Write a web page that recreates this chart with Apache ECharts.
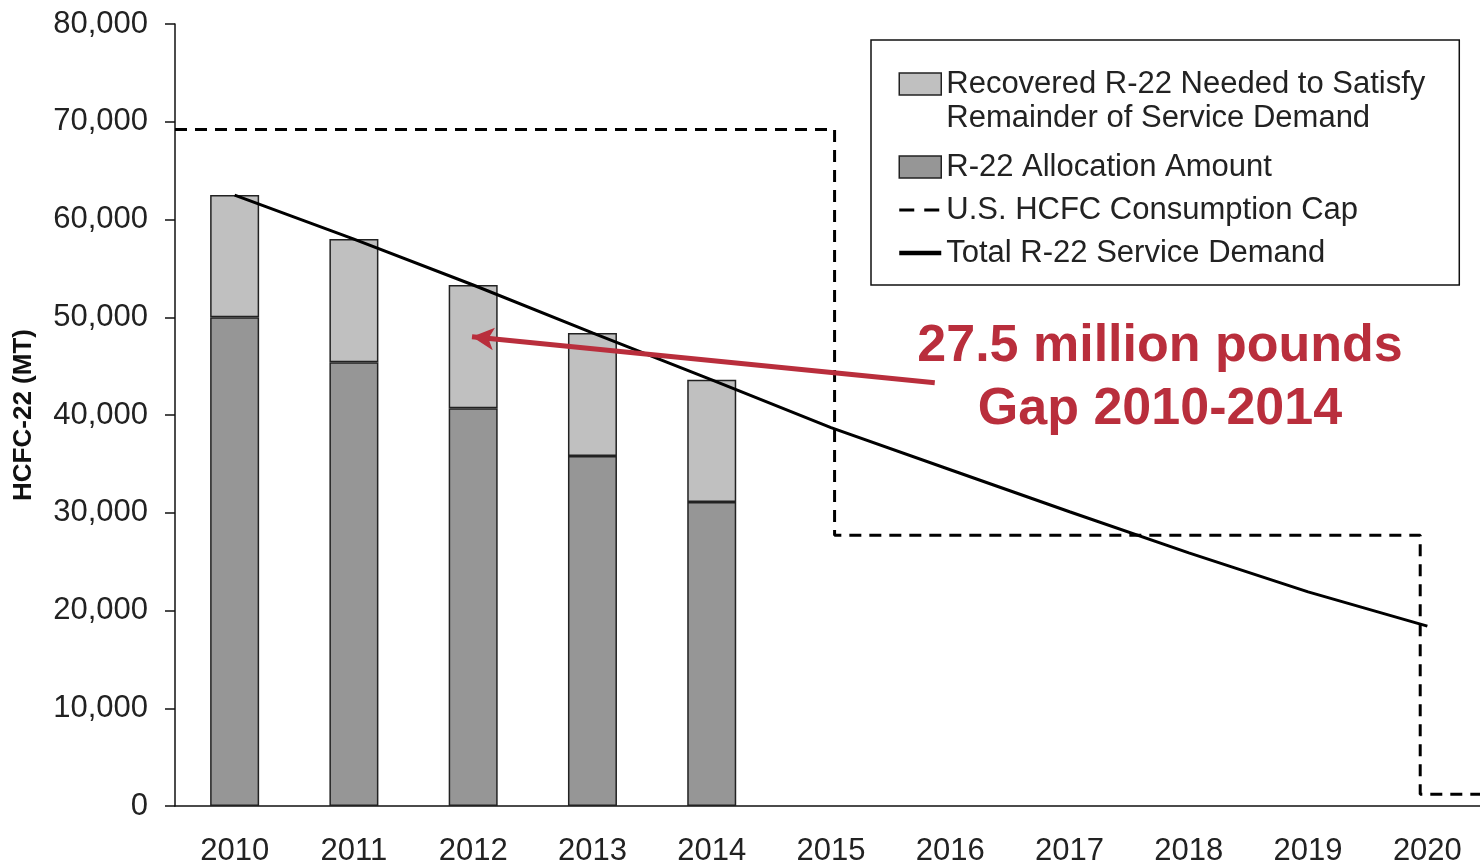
<!DOCTYPE html>
<html>
<head>
<meta charset="utf-8">
<title>HCFC-22 service demand</title>
<script src="https://cdn.jsdelivr.net/npm/echarts@6/dist/echarts.min.js"></script>
<style>
    html, body { margin: 0; padding: 0; background: #fff; }
    #chart { width: 1480px; height: 867px; }
</style>
</head>
<body>
<div id="chart"></div>
<script>
    // data (MT)
    var years = ['2010', '2011', '2012', '2013', '2014', '2015', '2016', '2017', '2018', '2019', '2020'];
    var allocation = [50000, 45400, 40700, 35800, 31100];
    var recovered = [12500, 12600, 12600, 12600, 12500];
    var serviceDemand = [62500, 58000, 53300, 48400, 43600, 38700, 34400, 30100, 25900, 21900, 18400];
    // consumption cap as a step line (x in years)
    var capYears = [2009.5, 2015.03, 2015.03, 2019.94, 2019.94, 2020.5];
    var capValues = [69200, 69200, 27700, 27700, 1200, 1200];

    var FONT = '"Liberation Sans", Arial, sans-serif';
    var RED = '#b92e3c';
    var NAME_REC = 'Recovered R-22 Needed to Satisfy\nRemainder of Service Demand';
    var NAME_ALLOC = 'R-22 Allocation Amount';
    var NAME_CAP = 'U.S. HCFC Consumption Cap';
    var NAME_DEMAND = 'Total R-22 Service Demand';

    var capData = capYears.map(function (y, i) { return [y, capValues[i]]; });

    var myChart = echarts.init(document.getElementById('chart'));
    var option = {
        animation: false,
        backgroundColor: '#fff',
        grid: { left: 175, top: 24, width: 1312, height: 782, outerBoundsMode: 'none' },
        legend: {
            orient: 'vertical',
            left: 871,
            top: 40,
            padding: [-13, 34, 15, 26],
            itemWidth: 42,
            itemHeight: 22,
            itemGap: 9,
            borderColor: '#111',
            borderWidth: 1.5,
            selectedMode: false,
            textStyle: { fontFamily: FONT, fontSize: 31, color: '#222', lineHeight: 34 },
            // empty first line so the icon sits on the first text line
            formatter: function (name) { return name === NAME_REC ? '\n' + name : name; },
            data: [
                { name: NAME_REC, icon: 'rect', itemStyle: { borderColor: '#222', borderWidth: 1.5 }, textStyle: { padding: [0, 0, 12, 0] } },
                { name: NAME_ALLOC, icon: 'rect', itemStyle: { borderColor: '#222', borderWidth: 1.5 } },
                { name: NAME_CAP, itemStyle: { opacity: 0 }, lineStyle: { color: '#000', width: 3, type: [15, 10] } },
                { name: NAME_DEMAND, itemStyle: { opacity: 0 }, lineStyle: { color: '#000', width: 4.5, type: 'solid' } }
            ]
        },
        xAxis: [{
            type: 'category',
            data: years,
            axisLine: { lineStyle: { color: '#111', width: 1.5 } },
            axisTick: { show: false },
            axisLabel: { fontFamily: FONT, fontSize: 31, color: '#222', margin: 30 }
        }, {
            type: 'value',
            min: 2009.5,
            max: 2020.5,
            show: false
        }],
        yAxis: {
            type: 'value',
            min: 0,
            max: 80000,
            interval: 10000,
            name: 'HCFC-22 (MT)',
            nameLocation: 'middle',
            nameRotate: 90,
            nameGap: 138,
            nameTextStyle: { fontFamily: FONT, fontSize: 26, fontWeight: 'bold', color: '#111' },
            axisLine: { show: true, lineStyle: { color: '#111', width: 1.5 } },
            axisTick: { show: true, length: 10, lineStyle: { color: '#111', width: 1.5 } },
            splitLine: { show: false },
            axisLabel: {
                fontFamily: FONT, fontSize: 31, color: '#222', margin: 27,
                formatter: function (v) { return v.toLocaleString('en-US'); }
            }
        },
        series: [{
            name: NAME_ALLOC,
            type: 'bar',
            stack: 'r22',
            barWidth: 49,
            data: allocation,
            itemStyle: { color: '#969696', borderColor: '#222', borderWidth: 1.5 }
        }, {
            name: NAME_REC,
            type: 'bar',
            stack: 'r22',
            barWidth: 49,
            data: recovered,
            itemStyle: { color: '#c0c0c0', borderColor: '#222', borderWidth: 1.5 }
        }, {
            name: NAME_CAP,
            type: 'line',
            xAxisIndex: 1,
            data: capData,
            symbol: 'none',
            color: '#000',
            z: 3,
            lineStyle: { color: '#000', width: 3, type: [12, 8] },
            markLine: {
                silent: true,
                symbol: ['none', 'arrow'],
                symbolSize: [17, 22],
                label: { show: false },
                emphasis: { disabled: true },
                lineStyle: { color: RED, width: 5, type: 'solid' },
                data: [[{ coord: [2015.87, 43300] }, { coord: [2011.99, 48000] }]]
            }
        }, {
            name: NAME_DEMAND,
            type: 'line',
            data: serviceDemand,
            symbol: 'none',
            color: '#000',
            z: 4,
            lineStyle: { color: '#000', width: 3 }
        }],
        graphic: [{
            type: 'text',
            x: 1160,
            y: 378,
            z: 100,
            style: {
                text: '27.5 million pounds\nGap 2010-2014',
                font: 'bold 52px "Liberation Sans", Arial, sans-serif',
                fill: RED,
                align: 'center',
                verticalAlign: 'middle',
                lineHeight: 63
            }
        }]
    };
    myChart.setOption(option);
</script>
</body>
</html>
